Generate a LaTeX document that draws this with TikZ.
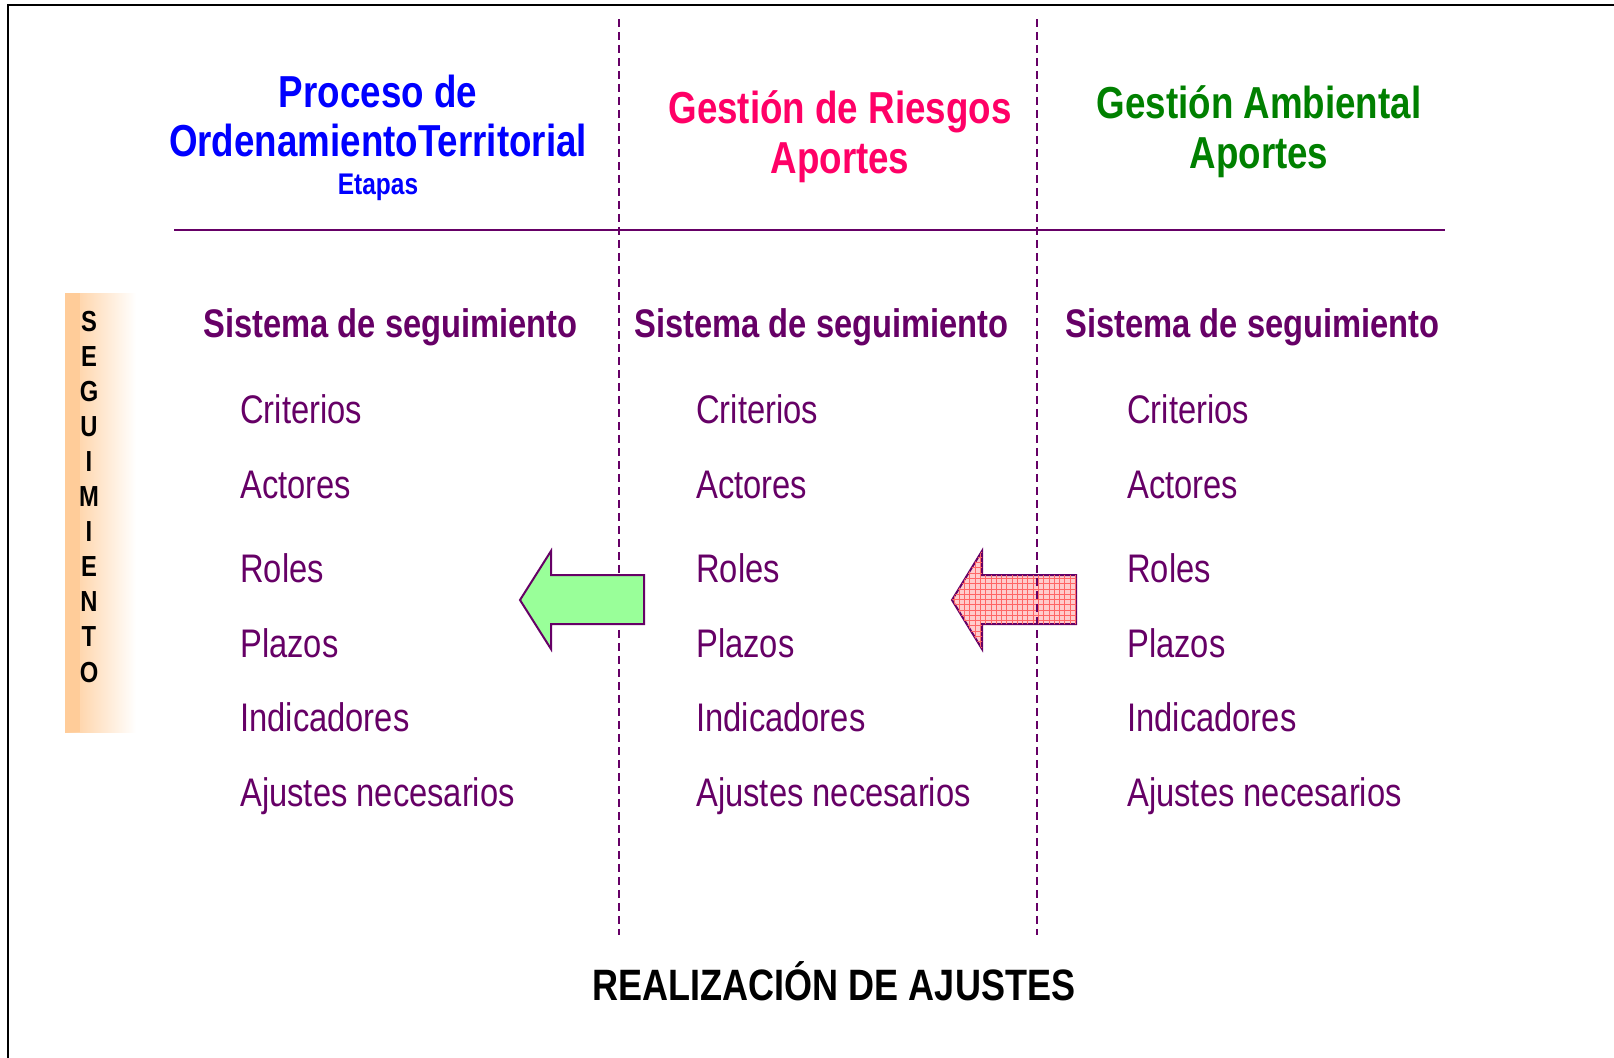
\documentclass[tikz,border=0pt]{standalone}
\usepackage{fontspec}
\setmainfont{Liberation Sans}[FakeStretch=0.82]
\usepackage{xcolor}
\usetikzlibrary{patterns}

\definecolor{morado}{HTML}{660066}
\definecolor{azul}{HTML}{0000FF}
\definecolor{fucsia}{HTML}{FF0066}
\definecolor{verde}{HTML}{008000}
\definecolor{naranja}{HTML}{FFCC99}
\definecolor{verdeclaro}{HTML}{99FF99}

\tikzset{
	titulo/.style={anchor=base, inner sep=0pt, font=\fontsize{25.5}{30}\selectfont\bfseries},
	sistema/.style={anchor=base west, inner sep=0pt, text=morado, font=\fontsize{22.7}{27}\selectfont\bfseries},
	item/.style={anchor=base west, inner sep=0pt, text=morado, font=\fontsize{22.7}{27}\selectfont},
	letra/.style={anchor=base, inner sep=0pt, font=\fontsize{16.5}{20}\selectfont\bfseries},
	divisor/.style={morado, line width=0.04cm, dash pattern=on 0.16cm off 0.1cm},
	flecha/.style={draw=morado, line width=0.04cm, line join=miter},
}

\begin{document}
\begin{tikzpicture}[x=0.02cm, y=-0.02cm]
		\useasboundingbox (0,0) rectangle (1614,1058);
		% marco
		\draw[line width=0.06cm] (8,1060) -- (8,5) -- (1616,5);
		% barra de seguimiento
		\shade[left color=naranja, right color=white] (65,293) rectangle (136,732);
		\fill[naranja] (65,293) rectangle (80,732);
		\foreach \l [count=\i from 0] in {S,E,G,U,I,M,I,E,N,T,O} {
			\node[letra] (seg\i) at (89, {331+35.1*\i}) {\l};
		}
		% encabezados
		\node[titulo, text=azul] (proc1) at (378,107) {Proceso de};
		\node[titulo, text=azul] (proc2) at (378,156) {OrdenamientoTerritorial};
		\node[anchor=base, inner sep=0pt, text=azul, font=\fontsize{17}{20}\selectfont\bfseries] (etapas) at (378,194) {Etapas};
		\node[titulo, text=fucsia] (riesg1) at (840,123) {Gestión de Riesgos};
		\node[titulo, text=fucsia] (riesg2) at (840,173) {Aportes};
		\node[titulo, text=verde] (amb1) at (1259,118) {Gestión Ambiental};
		\node[titulo, text=verde] (amb2) at (1259,168) {Aportes};
		\draw[morado, line width=0.04cm] (174,230) -- (1445,230);
		% flecha rosa
		\draw[flecha, fill=red!20, postaction={pattern=grid, pattern color=red!60}]
			(952,600) -- (982,551) -- (982,575) -- (1076,575) -- (1076,624) -- (982,624) -- (982,649) -- cycle;
		% columnas
		\draw[divisor] (619,19) -- (619,935);
		\draw[divisor] (1037,19) -- (1037,935);
		% flecha verde
		\draw[flecha, fill=verdeclaro]
			(520,600) -- (551,551) -- (551,575) -- (644,575) -- (644,624) -- (551,624) -- (551,649) -- cycle;
		\foreach \col/\xs/\xi in {1/203/240, 2/634/696, 3/1065/1127} {
			\node[sistema] (sis\col) at (\xs,337) {Sistema de seguimiento};
			\foreach \txt/\y [count=\k] in {Criterios/423, Actores/498, Roles/582, Plazos/657, Indicadores/731, Ajustes necesarios/806} {
				\node[item] (it\col-\k) at (\xi,\y) {\txt};
			}
		}
		\node[anchor=base, inner sep=0pt, font=\fontsize{25}{30}\selectfont\bfseries] (ajustes) at (834,1000) {REALIZACIÓN DE AJUSTES};
	\end{tikzpicture}
\end{document}
